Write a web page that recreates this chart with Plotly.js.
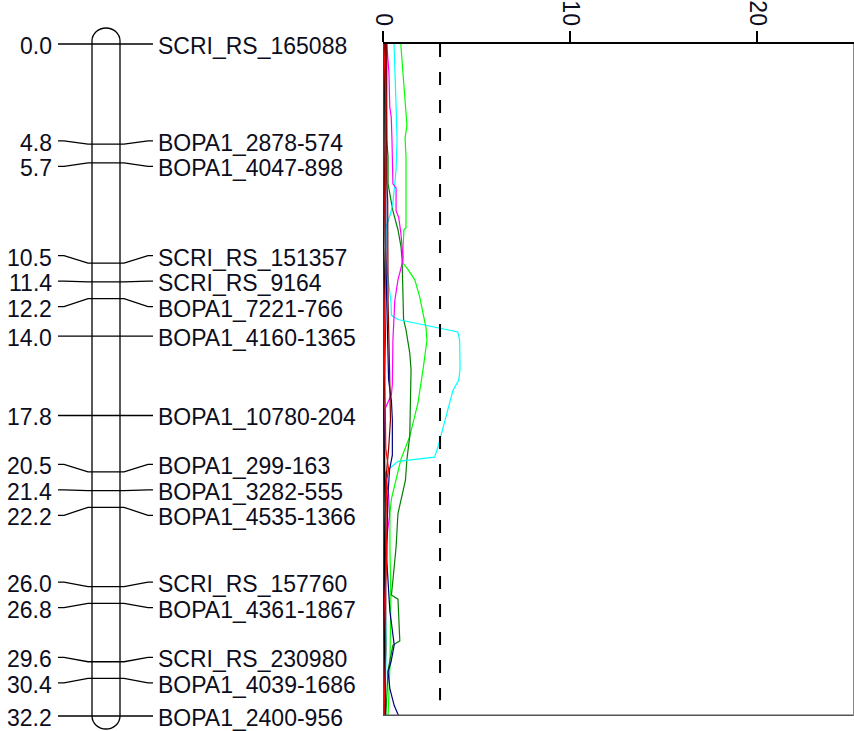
<!DOCTYPE html>
<html><head><meta charset="utf-8">
<script src="https://cdn.plot.ly/plotly-3.0.1.min.js"></script>
<style>html,body{margin:0;padding:0;background:#fff}</style>
</head><body><div id="chart" style="width:854px;height:731px"></div>
<script>
// ---- data ----
const markerNames = ["SCRI_RS_165088","BOPA1_2878-574","BOPA1_4047-898","SCRI_RS_151357","SCRI_RS_9164","BOPA1_7221-766","BOPA1_4160-1365","BOPA1_10780-204","BOPA1_299-163","BOPA1_3282-555","BOPA1_4535-1366","SCRI_RS_157760","BOPA1_4361-1867","SCRI_RS_230980","BOPA1_4039-1686","BOPA1_2400-956"];
const markerPos = [0.0,4.8,5.7,10.5,11.4,12.2,14.0,17.8,20.5,21.4,22.2,26.0,26.8,29.6,30.4,32.2];
const lodTicks = [0,10,20];
const threshold = 3.05;

const limePos = [0,1.4,2.2,3.9,4.5,5.4,8.8,8.9,9.9,10.5,10.8,11.3,12.1,13.6,14.2,15.1,15.6,17.2,18.8,19.9,20.9,21.8,22.5,24.1,26.6,29.8,32.2];
const limeLod = [0.95,1.07,1.16,1.28,1.18,1.23,1.23,1.12,1.07,1.07,1.33,1.7,1.96,2.3,2.35,2.23,2.14,1.87,1.43,0.96,0.7,0.45,0.37,0.37,0.42,0.37,0.27];
const greenPos = [0,4.6,5.4,6.7,7.5,8.0,8.9,9.7,10.3,13.2,13.7,14.8,15.6,18.8,19.9,20.9,22.5,24.1,25.7,26.4,26.6,28.6,28.8,30.0,32.2];
const greenLod = [0.15,0.2,0.27,0.27,0.43,0.53,0.8,0.96,1.02,1.1,1.23,1.43,1.5,1.43,1.28,1.2,0.8,0.7,0.53,0.45,0.8,0.9,0.53,0.27,0.15];
const cyanPos = [0,1.4,3.0,4.6,6.0,6.7,7.6,8.1,8.8,10.3,11.4,12.4,13.0,13.2,13.8,14.2,15.6,16.1,16.6,17.5,18.5,19.3,19.8,20.0,20.4,20.9,23.3,26.6,28.6,31.0,32.2];
const cyanLod = [0.59,0.66,0.70,0.75,0.70,0.63,0.53,0.41,0.16,0.15,0.3,0.43,0.45,0.8,4.0,4.1,4.12,4.05,3.74,3.48,3.2,2.94,2.76,0.8,0.27,0.15,0.12,0.12,0.18,0.15,0.1];
const magentaPos = [0,1.4,3.0,3.5,4.6,6.7,6.9,8.0,8.3,9.1,10.2,10.5,11.3,12.3,14.2,16.3,16.8,17.5,20.4,21.6,22.6,23.3,24.7,32.2];
const magentaLod = [0.2,0.32,0.36,0.44,0.48,0.53,0.7,0.7,0.84,0.96,1.07,1.03,0.8,0.63,0.53,0.5,0.45,0.1,0.1,0.3,0.35,0.25,0.1,0.05];
const navyPos = [0,9.9,12.3,16.1,17.1,18.0,19.7,20.4,21.8,24.7,27.2,28.3,28.8,29.6,30.1,30.9,31.7,32.2];
const navyLod = [0.15,0.15,0.2,0.3,0.45,0.5,0.5,0.35,0.25,0.2,0.37,0.53,0.6,0.43,0.27,0.37,0.6,0.84];
const maroonPos = [0,6.5,7.5,12.3,15.6,18.0,19.4,20.9,26.6,32.2];
const maroonLod = [0.2,0.2,0.25,0.27,0.35,0.4,0.3,0.15,0.15,0.1];
const blackPos = [0,4.8,9.7,14.0,17.8,22.2,26.8,30.4,32.2];
const blackLod = [0.08,0.1,0.05,0.12,0.05,0.1,0.06,0.1,0.12];
const redPos = [0,2.7,7.5,10.3,12.3,14.7,19.4,20.4,20.9,22.8,24.7,26.6,29.0,32.2];
const redLod = [0.05,0.15,0.1,0.15,0.1,0.08,0.15,0.3,0.2,0.15,0.2,0.1,0.15,0.05];

// ---- layout helpers ----
const W = 854, H = 731;
const topPx = 44, botPx = 716;
const maxPos = Math.max(...markerPos);
const pxPerCM = (botPx - topPx) / maxPos;
const minGap = 25.5 / pxPerCM;

function spread(pos, gap) {
  let groups = pos.map((p, i) => ({idx: [i], mean: p}));
  let changed = true;
  const place = g => { const n = g.idx.length; return g.idx.map((_, k) => g.mean + (k - (n - 1) / 2) * gap); };
  while (changed) {
    changed = false;
    for (let i = 0; i < groups.length - 1; i++) {
      const a = place(groups[i]), b = place(groups[i + 1]);
      if (b[0] - a[a.length - 1] < gap - 1e-9) {
        const idx = groups[i].idx.concat(groups[i + 1].idx);
        const mean = idx.reduce((s, j) => s + pos[j], 0) / idx.length;
        groups.splice(i, 2, {idx, mean});
        changed = true; break;
      }
    }
  }
  const out = new Array(pos.length);
  groups.forEach(g => place(g).forEach((v, k) => out[g.idx[k]] = v));
  return out;
}
let labelPos = spread(markerPos, minGap);
labelPos[0] = markerPos[0];
labelPos[labelPos.length - 1] = markerPos[markerPos.length - 1];

const font = {family: 'Liberation Sans, Arial, sans-serif', size: 23, color: '#0d0d20'};
const annotations = [];
const shapes = [];
markerPos.forEach((p, i) => {
  const ly = labelPos[i];
  annotations.push({xref: 'x', yref: 'y', x: 53, y: ly, xanchor: 'right', yanchor: 'middle', yshift: -2,
    text: p.toFixed(1), showarrow: false, font, borderpad: 0});
  annotations.push({xref: 'x', yref: 'y', x: 157, y: ly, xanchor: 'left', yanchor: 'middle', yshift: -2,
    text: markerNames[i], showarrow: false, font, borderpad: 0});
  shapes.push({type: 'path', xref: 'x', yref: 'y', layer: 'above',
    path: `M58,${ly} L64,${ly} L88,${p} L124,${p} L148,${ly} L153,${ly}`,
    line: {color: '#000', width: 1.3}});
});
// chromosome bar
const x0 = 92, x1 = 120, xc = 106, rx = 14, kk = 0.5523;
const tY = markerPos[0] - 3 / pxPerCM, bY = maxPos, capH = 13 / pxPerCM;
const chromPath = `M${x0},${tY} L${x0},${bY} ` +
  `C${x0},${bY + kk * capH} ${xc - kk * rx},${bY + capH} ${xc},${bY + capH} ` +
  `C${xc + kk * rx},${bY + capH} ${x1},${bY + kk * capH} ${x1},${bY} ` +
  `L${x1},${tY} ` +
  `C${x1},${tY - kk * capH} ${xc + kk * rx},${tY - capH} ${xc},${tY - capH} ` +
  `C${xc - kk * rx},${tY - capH} ${x0},${tY - kk * capH} ${x0},${tY} Z`;
shapes.push({type: 'path', xref: 'x', yref: 'y', path: chromPath, line: {color: '#000', width: 1.3}, layer: 'below'});

// LOD frame
const lodMax = (W - 383) / 18.7;
shapes.push({type: 'line', xref: 'x2', yref: 'y2', x0: threshold, x1: threshold, y0: 0, y1: 31.45,
  line: {color: '#000', width: 2, dash: '13px,15px'}});
shapes.push({type: 'line', xref: 'x2', yref: 'y2', x0: 0, x1: 0, y0: 0, y1: maxPos, line: {color: '#000', width: 1.5}, layer: 'below'});
shapes.push({type: 'line', xref: 'x2', yref: 'y2', x0: 0, x1: lodMax, y0: maxPos, y1: maxPos, line: {color: '#555', width: 3}});
shapes.push({type: 'line', xref: 'paper', yref: 'y2', x0: 853.5 / W, x1: 853.5 / W, y0: 0, y1: maxPos, line: {color: '#888', width: 1}});

function tr(x, y, color) {
  return {type: 'scatter', mode: 'lines', x, y, xaxis: 'x2', yaxis: 'y2',
    line: {color, width: 1.2}, hoverinfo: 'skip', showlegend: false};
}
const data = [
  tr(limeLod, limePos, '#00ff00'),
  tr(greenLod, greenPos, '#008000'),
  tr(cyanLod, cyanPos, '#00ffff'),
  tr(magentaLod, magentaPos, '#ff00ff'),
  tr(navyLod, navyPos, '#000080'),
  tr(maroonLod, maroonPos, '#800000'),
  tr(blackLod, blackPos, '#000000'),
  tr(redLod, redPos, '#ff0000')
];

const layout = {
  width: W, height: H, margin: {l: 0, r: 0, t: 0, b: 0, pad: 0},
  paper_bgcolor: '#fff', plot_bgcolor: 'rgba(0,0,0,0)', showlegend: false,
  xaxis: {domain: [0, 383 / W], range: [0, 383], showgrid: false, zeroline: false, showticklabels: false, showline: false, ticks: '', fixedrange: true},
  yaxis: {domain: [0, 1], range: [maxPos + (H - botPx) / pxPerCM, -topPx / pxPerCM], showgrid: false, zeroline: false, showticklabels: false, showline: false, ticks: ''},
  xaxis2: {domain: [383 / W, 1], range: [0, lodMax], anchor: 'y2', side: 'top',
    tickvals: lodTicks, ticktext: lodTicks.map(String), tickangle: 90, ticks: 'outside', ticklen: 11, tickwidth: 2, tickcolor: '#000',
    ticklabelstandoff: -3,
    showline: true, linewidth: 2, linecolor: '#000', showgrid: false, zeroline: false,
    tickfont: {family: 'Liberation Sans, Arial, sans-serif', size: 23, color: '#0d0d20'}},
  yaxis2: {domain: [(H - botPx) / H, (H - topPx) / H], range: [maxPos, 0], anchor: 'x2', showgrid: false, zeroline: false, showticklabels: false, showline: false, ticks: ''},
  shapes, annotations
};
Plotly.newPlot('chart', data, layout, {staticPlot: true, displayModeBar: false});
</script></body></html>
